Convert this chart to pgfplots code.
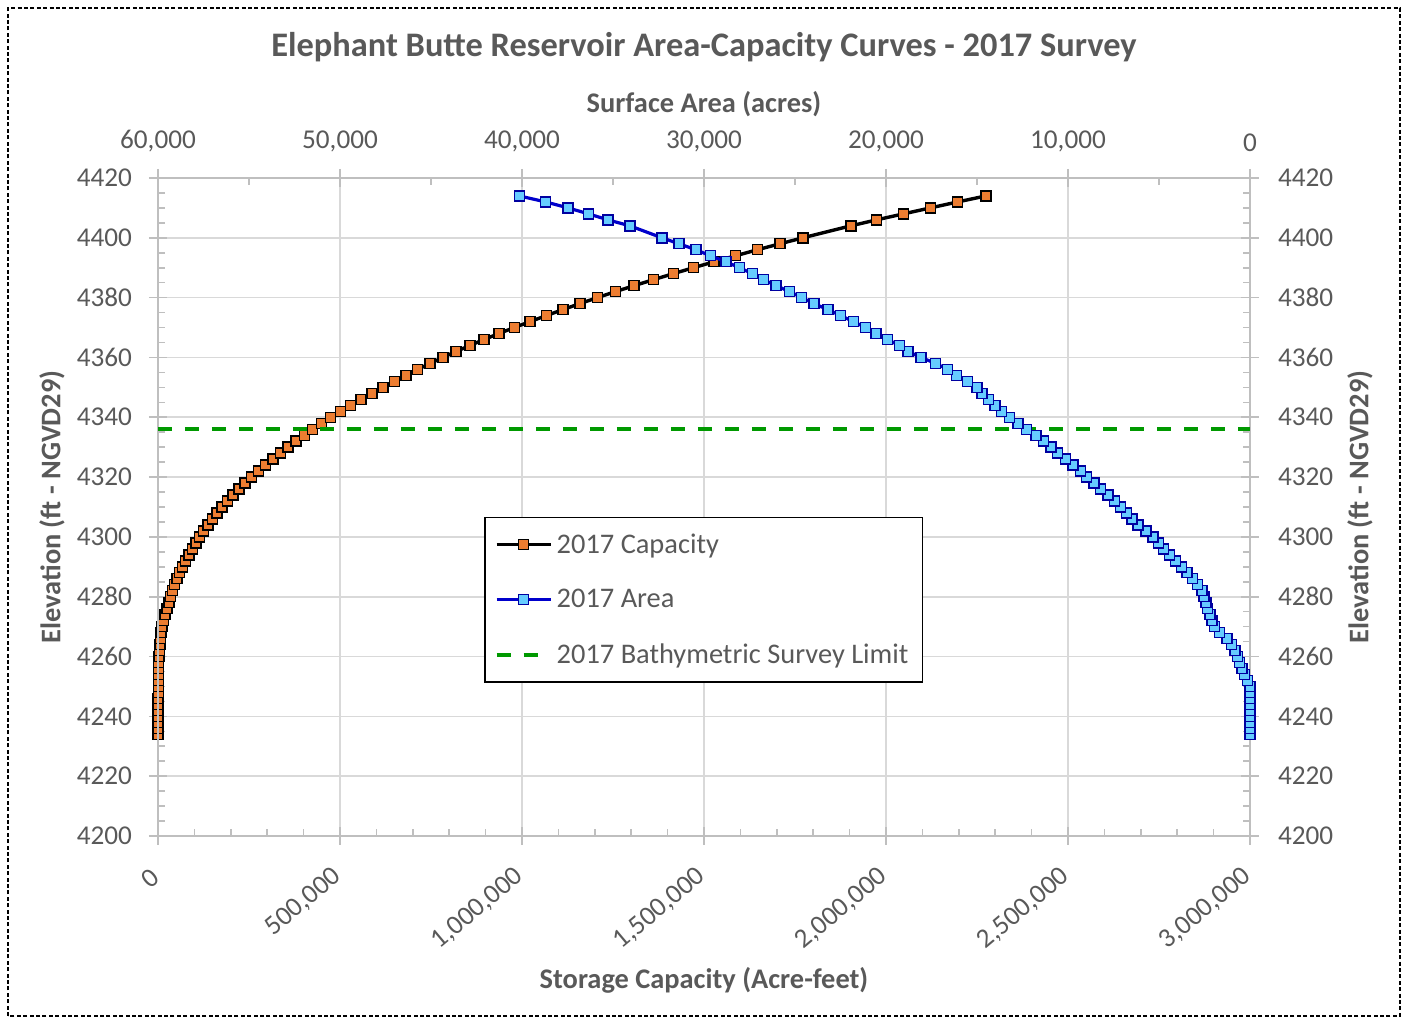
\documentclass[border=0pt]{standalone}
\usepackage{fontspec}
\setmainfont{Carlito}
\usepackage{pgfplots}
\usepackage{pgfplotstable}
\pgfplotsset{compat=1.18}

\definecolor{txt}{HTML}{595959}
\definecolor{axisgray}{HTML}{BFBFBF}
\definecolor{gridgray}{HTML}{D9D9D9}
\definecolor{capfill}{HTML}{ED7D31}
\definecolor{areafill}{HTML}{66CCFF}
\definecolor{areaedge}{HTML}{0000A0}
\definecolor{arealine}{HTML}{0000CC}
\definecolor{limitgreen}{HTML}{009900}

% elevation (ft), storage capacity (acre-feet), surface area (acres)
\pgfplotstableread{
elev cap area
4234 0 0
4236 20 0
4238 60 0
4240 120 0
4242 200 0
4244 300 0
4246 420 0
4248 560 0
4250 730 10
4252 930 150
4254 1200 310
4256 1550 440
4258 2000 590
4260 2700 680
4262 3600 820
4264 5000 1000
4266 6700 1260
4268 8600 1690
4270 11300 1940
4272 14800 2090
4274 19500 2200
4276 24700 2350
4278 29900 2420
4280 35000 2530
4282 40400 2640
4284 46000 2870
4286 52500 3170
4288 59700 3460
4290 67500 3750
4292 76000 4100
4294 85000 4430
4296 94300 4740
4298 104000 5040
4300 114500 5330
4302 125500 5710
4304 137000 6150
4306 149200 6480
4308 162400 6780
4310 176300 7130
4312 190800 7430
4314 206000 7800
4316 222000 8220
4318 239000 8570
4320 257000 8990
4322 276000 9320
4324 295500 9720
4326 315500 10150
4328 336200 10570
4330 357600 10930
4332 379500 11330
4334 402000 11760
4336 425000 12270
4338 449000 12750
4340 474500 13220
4342 501000 13640
4344 529000 14010
4346 558000 14360
4348 588000 14720
4350 618500 15000
4352 649500 15520
4354 681000 16130
4356 713500 16610
4358 747500 17270
4360 782500 18080
4362 819000 18790
4364 857000 19270
4366 896000 19910
4368 936500 20550
4370 979000 21120
4372 1022500 21800
4374 1067000 22490
4376 1112500 23190
4378 1159000 23960
4380 1207000 24630
4382 1256500 25290
4384 1308000 26040
4386 1361000 26740
4388 1415500 27330
4390 1471000 28060
4392 1528000 28790
4394 1587000 29650
4396 1646500 30440
4398 1708500 31370
4400 1772000 32310
4404 1903500 34070
4406 1974000 35280
4408 2048000 36340
4410 2122000 37470
4412 2197000 38700
4414 2274500 40150
}\surveydata

\pgfplotsset{
  chartbase/.style={
    at={(79pt,92pt)}, anchor=south west,
    scale only axis, width=546pt, height=329pt,
    ymin=4200, ymax=4420,
    ytick={4200,4220,...,4420}, minor y tick num=3,
    axis line style={draw=axisgray, line width=0.8pt},
    tick style={draw=axisgray, line width=0.8pt},
    tick align=center, major tick length=9pt, minor tick length=3.3pt,
    tick label style={font=\fontsize{13.6}{16}\selectfont, text=txt},
    /pgf/number format/assume math mode=true,
    /pgf/number format/fixed,
    /pgf/number format/precision=0,
    scaled x ticks=false, scaled y ticks=false,
  },
  markstyle/.style={mark=square*, mark size=2.5pt},
}

\begin{document}
\begin{tikzpicture}
\useasboundingbox (0,0) rectangle (703.5pt,510pt);
\draw[black, line width=0.6pt, dash pattern=on 2pt off 1.2pt] (4pt,2pt) rectangle (700pt,506pt);

% capacity: bottom and left axes
\begin{axis}[
  chartbase,
  xmin=0, xmax=3000000,
  xtick={0,500000,...,3000000}, minor x tick num=4,
  xtick pos=bottom, ytick pos=left,
  grid=major, major grid style={draw=gridgray, line width=0.8pt},
  xticklabel style={yshift=-12pt, xshift=1.5pt, rotate=40, anchor=east,
    /pgf/number format/1000 sep={,}},
  yticklabel style={xshift=-5pt, /pgf/number format/1000 sep={}},
  minor x tick style={yshift=1.65pt},
  minor y tick style={xshift=1.65pt},
]
\addplot[black, line width=1.7pt, markstyle,
  mark options={fill=capfill, draw=black, line width=0.7pt}]
  table[x=cap, y=elev] {\surveydata};
\end{axis}

% area: top and right axes
\begin{axis}[
  chartbase,
  xmin=0, xmax=60000, x dir=reverse,
  xtick={0,10000,...,60000}, minor x tick num=1,
  xtick pos=top, xticklabel pos=top,
  ytick pos=right, yticklabel pos=right,
  xticklabel style={yshift=5pt, /pgf/number format/1000 sep={,}},
  yticklabel style={xshift=6pt, /pgf/number format/1000 sep={}},
  minor x tick style={yshift=-1.65pt},
  minor y tick style={xshift=-1.65pt},
  legend cell align=left,
  legend image code/.code={\draw[mark repeat=2, mark phase=2, #1]
    plot coordinates {(0pt,0pt) (13.5pt,0pt) (27pt,0pt)};},
  legend style={at={(0.2985,0.2325)}, anchor=south west,
    draw=black, line width=0.8pt, inner xsep=5pt, inner ysep=6pt,
    row sep=12.5pt,
    font=\fontsize{14.2}{17}\selectfont\color{txt},
    /tikz/every even column/.append style={column sep=2pt}},
]
\addlegendimage{black, line width=1.7pt, markstyle,
  mark options={fill=capfill, draw=black, line width=0.7pt}}
\addlegendentry{2017 Capacity}
\addplot[arealine, line width=1.6pt, markstyle,
  mark options={fill=areafill, draw=areaedge, line width=0.7pt}]
  table[x=area, y=elev] {\surveydata};
\addlegendentry{2017 Area}
\addplot[limitgreen, line width=2pt, dash pattern=on 7pt off 6.5pt]
  coordinates {(60000,4336) (0,4336)};
\addlegendentry{2017 Bathymetric Survey Limit}
\end{axis}

\node[font=\bfseries\fontsize{17.2}{21}\selectfont, text=txt] at (352pt,486.5pt)
  {Elephant Butte Reservoir Area-Capacity Curves - 2017 Survey};
\node[font=\bfseries\fontsize{14.2}{17}\selectfont, text=txt] at (352pt,458pt)
  {Surface Area (acres)};
\node[font=\bfseries\fontsize{14.2}{17}\selectfont, text=txt] at (352pt,20pt)
  {Storage Capacity (Acre-feet)};
\node[font=\bfseries\fontsize{14.2}{17}\selectfont, text=txt, rotate=90] at (26pt,256.5pt)
  {Elevation (ft - NGVD29)};
\node[font=\bfseries\fontsize{14.2}{17}\selectfont, text=txt, rotate=90] at (680pt,256.5pt)
  {Elevation (ft - NGVD29)};
\end{tikzpicture}
\end{document}
